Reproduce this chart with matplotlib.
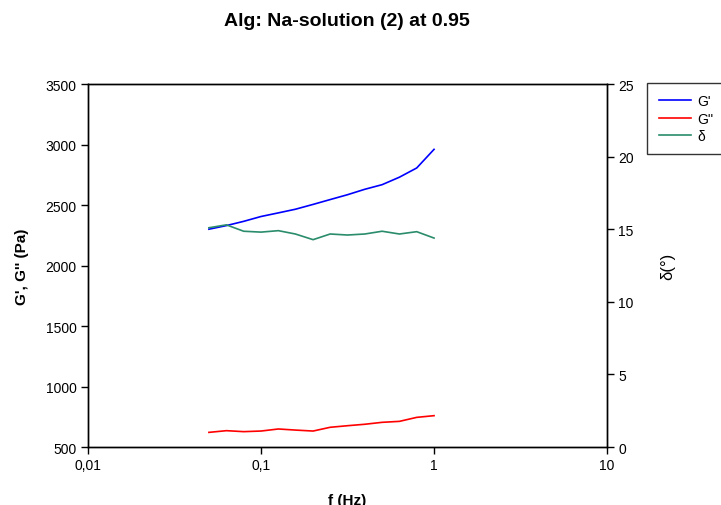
import matplotlib.pyplot as plt
from matplotlib.lines import Line2D
from matplotlib.ticker import FixedLocator, FixedFormatter, NullLocator

plt.rcParams['font.family'] = ['Liberation Sans', 'DejaVu Sans']

freq = [0.05, 0.0631, 0.0794, 0.1, 0.126, 0.158, 0.2, 0.251, 0.316, 0.398, 0.501, 0.631, 0.794, 1.0]
g_storage = [2300, 2330, 2365, 2405, 2435, 2465, 2505, 2545, 2585, 2630, 2668, 2730, 2806, 2960]
g_loss = [621, 635, 627, 632, 649, 640, 632, 663, 676, 688, 704, 712, 745, 759]
delta = [15.1, 15.3, 14.86, 14.8, 14.9, 14.67, 14.28, 14.67, 14.6, 14.67, 14.86, 14.67, 14.83, 14.39]

x_ticks = [0.01, 0.1, 1, 10]
x_labels = ['0,01', '0,1', '1', '10']

fig = plt.figure(figsize=(7.21, 5.06), dpi=100)
ax = fig.add_axes([0.122, 0.1146, 0.720, 0.7174])
ax2 = ax.twinx()

ax.plot(freq, g_storage, color='#0000ff', lw=1.2)
ax.plot(freq, g_loss, color='#ff0000', lw=1.2)
ax2.plot(freq, delta, color='#2a8c6c', lw=1.2)

ax.set_xscale('log')
ax.set_xlim(0.01, 10)
ax.xaxis.set_major_locator(FixedLocator(x_ticks))
ax.xaxis.set_major_formatter(FixedFormatter(x_labels))
ax.xaxis.set_minor_locator(NullLocator())
ax.set_ylim(500, 3500)
ax.set_yticks(range(500, 3501, 500))
ax2.set_ylim(0, 25)
ax2.set_yticks(range(0, 26, 5))

for a in (ax, ax2):
    a.tick_params(direction='out', length=5, width=1, labelsize=10, pad=3)
    for s in a.spines.values():
        s.set_linewidth(1)

ax.set_xlabel('f (Hz)', fontsize=11, fontweight='bold', labelpad=15)
ax.set_ylabel("G', G'' (Pa)", fontsize=11, fontweight='bold', labelpad=12)
ax2.set_ylabel('δ(°)', fontsize=12)
ax2.yaxis.set_label_coords(1.102, 0.5)

fig.text(0.481, 0.957, 'Alg: Na-solution (2) at 0.95', ha='center', va='center',
         fontsize=14, fontweight='bold')

handles = [Line2D([], [], color='#0000ff', lw=1.2),
           Line2D([], [], color='#ff0000', lw=1.2),
           Line2D([], [], color='#2a8c6c', lw=1.2)]
leg = fig.legend(handles, ["G'", "G''", 'δ'], loc='upper left',
                 bbox_to_anchor=(0.898, 0.834), frameon=True, fancybox=False,
                 edgecolor='black', fontsize=10, handlelength=2.3,
                 borderpad=0.8, labelspacing=0.25, handletextpad=0.5,
                 borderaxespad=0)
leg.get_frame().set_linewidth(1)

fig.savefig('out.png', dpi=100)
